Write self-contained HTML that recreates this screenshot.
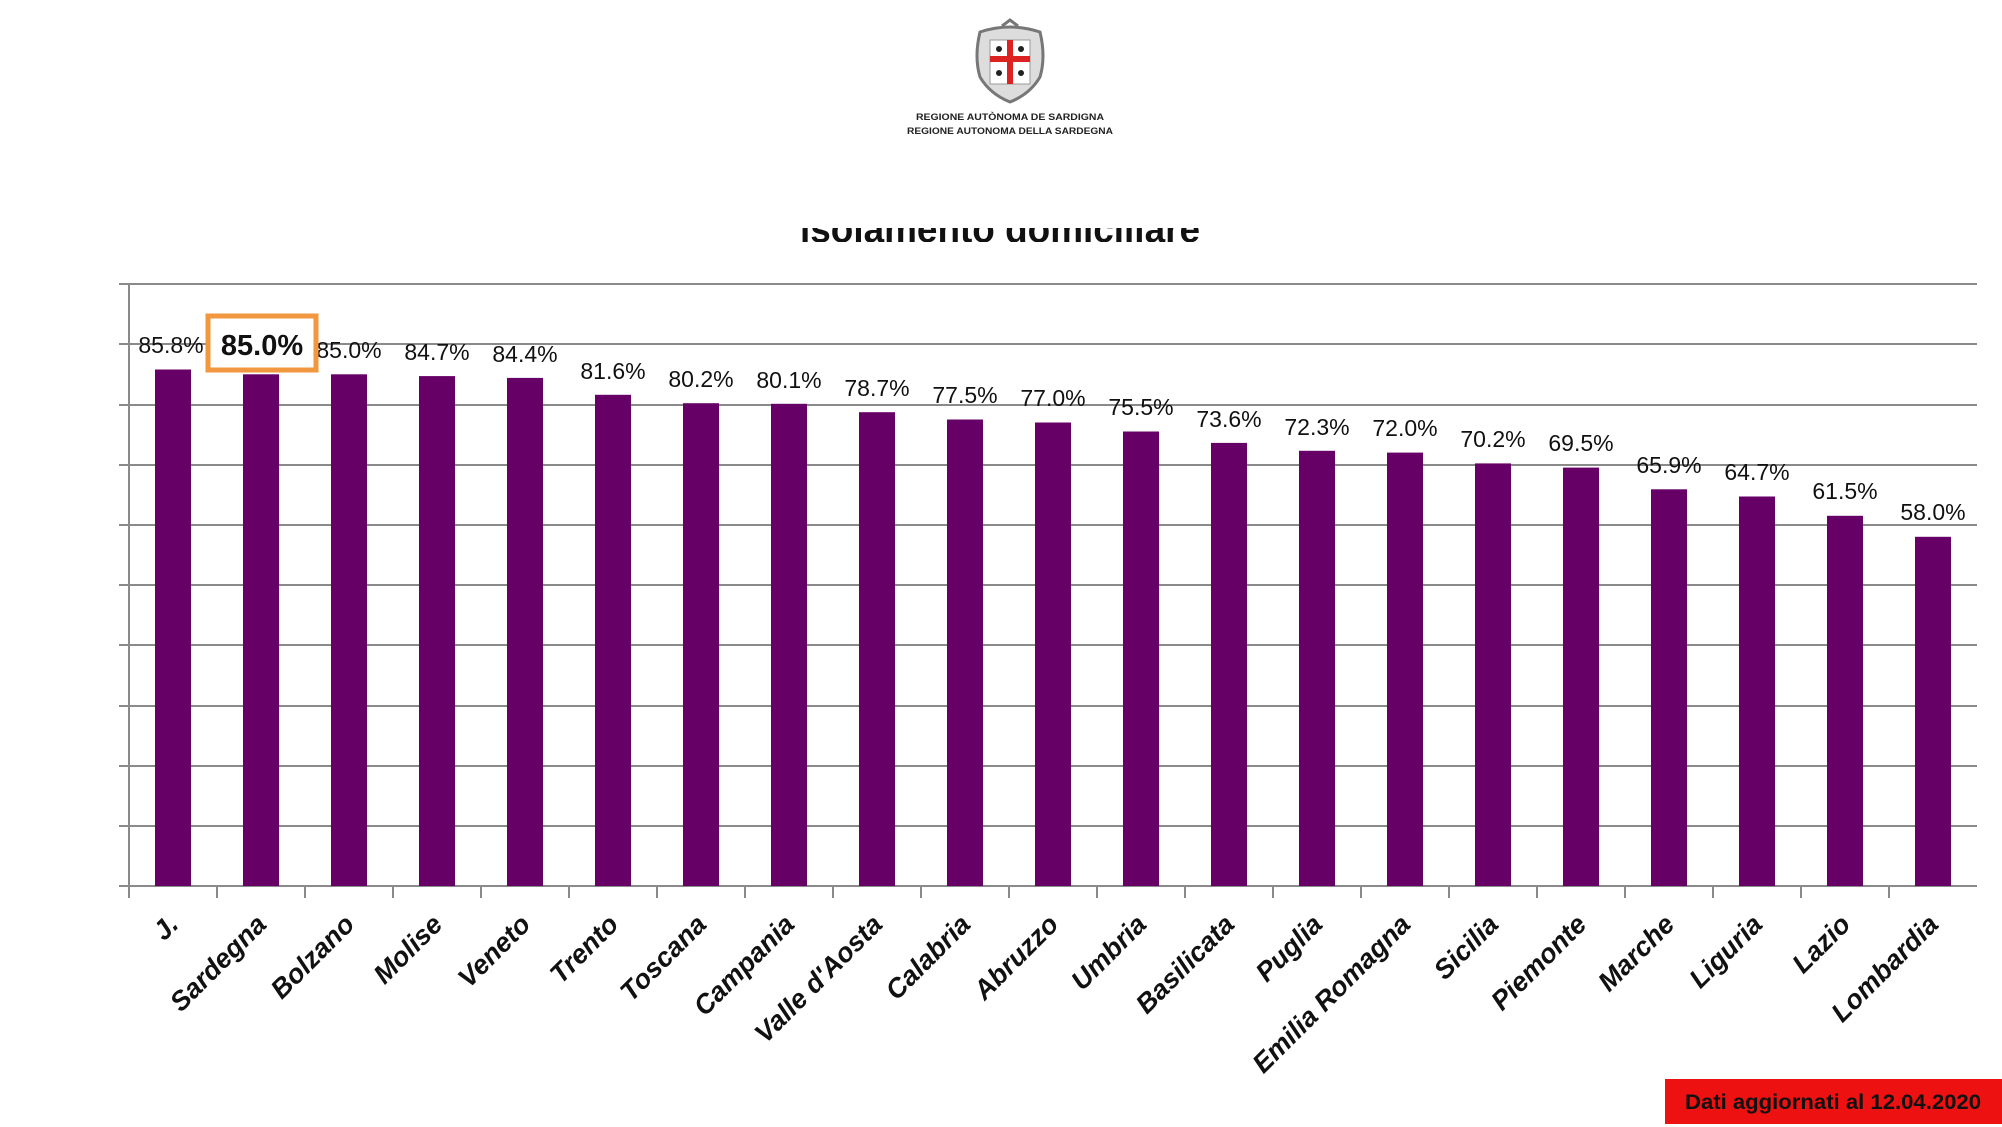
<!DOCTYPE html>
<html><head><meta charset="utf-8"><style>
html,body{margin:0;padding:0;background:#fff;}
svg{display:block;}
</style></head><body>
<svg width="2002" height="1127" xmlns="http://www.w3.org/2000/svg" font-family="'Liberation Sans', sans-serif">
<rect width="2002" height="1127" fill="#fff"/>
<g transform="translate(1010,62)">
<path d="M-30,-30 Q-36,-5 -30,15 Q-20,32 0,40 Q20,32 30,15 Q36,-5 30,-30 Q0,-40 -30,-30Z" fill="#ddd" stroke="#777" stroke-width="3"/>
<rect x="-20" y="-22" width="40" height="44" fill="#fff" stroke="#999"/>
<rect x="-3" y="-22" width="6" height="44" fill="#d22"/>
<rect x="-20" y="-6" width="40" height="6" fill="#d22"/>
<circle cx="-11" cy="-13" r="3" fill="#222"/><circle cx="11" cy="-13" r="3" fill="#222"/>
<circle cx="-11" cy="11" r="3" fill="#222"/><circle cx="11" cy="11" r="3" fill="#222"/>
<path d="M-8,-36 L0,-42 L8,-36" fill="none" stroke="#777" stroke-width="3"/>
</g>
<text x="1010" y="120" font-size="9" font-weight="bold" text-anchor="middle" fill="#222" textLength="188" lengthAdjust="spacingAndGlyphs">REGIONE AUTÒNOMA DE SARDIGNA</text>
<text x="1010" y="134" font-size="9" font-weight="bold" text-anchor="middle" fill="#222" textLength="206" lengthAdjust="spacingAndGlyphs">REGIONE AUTONOMA DELLA SARDEGNA</text>
<defs><clipPath id="tc"><rect x="0" y="228" width="2002" height="14"/></clipPath></defs>
<text x="1000" y="242" font-size="38" font-weight="bold" text-anchor="middle" fill="#111" clip-path="url(#tc)" textLength="400" lengthAdjust="spacingAndGlyphs">isolamento domiciliare</text>
<g stroke="#8a8a8a" stroke-width="2">
<line x1="119" y1="284" x2="1977" y2="284"/>
<line x1="119" y1="344" x2="1977" y2="344"/>
<line x1="119" y1="405" x2="1977" y2="405"/>
<line x1="119" y1="465" x2="1977" y2="465"/>
<line x1="119" y1="525" x2="1977" y2="525"/>
<line x1="119" y1="585" x2="1977" y2="585"/>
<line x1="119" y1="645" x2="1977" y2="645"/>
<line x1="119" y1="706" x2="1977" y2="706"/>
<line x1="119" y1="766" x2="1977" y2="766"/>
<line x1="119" y1="826" x2="1977" y2="826"/>
<line x1="119" y1="886" x2="1977" y2="886"/>
<line x1="129" y1="284" x2="129" y2="898"/>
</g>
<g stroke="#8a8a8a" stroke-width="2">
<line x1="217" y1="886" x2="217" y2="898"/><line x1="305" y1="886" x2="305" y2="898"/><line x1="393" y1="886" x2="393" y2="898"/><line x1="481" y1="886" x2="481" y2="898"/><line x1="569" y1="886" x2="569" y2="898"/><line x1="657" y1="886" x2="657" y2="898"/><line x1="745" y1="886" x2="745" y2="898"/><line x1="833" y1="886" x2="833" y2="898"/><line x1="921" y1="886" x2="921" y2="898"/><line x1="1009" y1="886" x2="1009" y2="898"/><line x1="1097" y1="886" x2="1097" y2="898"/><line x1="1185" y1="886" x2="1185" y2="898"/><line x1="1273" y1="886" x2="1273" y2="898"/><line x1="1361" y1="886" x2="1361" y2="898"/><line x1="1449" y1="886" x2="1449" y2="898"/><line x1="1537" y1="886" x2="1537" y2="898"/><line x1="1625" y1="886" x2="1625" y2="898"/><line x1="1713" y1="886" x2="1713" y2="898"/><line x1="1801" y1="886" x2="1801" y2="898"/><line x1="1889" y1="886" x2="1889" y2="898"/>
</g>
<g fill="#660066">
<rect x="155" y="369.5" width="36" height="516.5"/>
<rect x="243" y="374.3" width="36" height="511.7"/>
<rect x="331" y="374.3" width="36" height="511.7"/>
<rect x="419" y="376.1" width="36" height="509.9"/>
<rect x="507" y="377.9" width="36" height="508.1"/>
<rect x="595" y="394.8" width="36" height="491.2"/>
<rect x="683" y="403.2" width="36" height="482.8"/>
<rect x="771" y="403.8" width="36" height="482.2"/>
<rect x="859" y="412.2" width="36" height="473.8"/>
<rect x="947" y="419.5" width="36" height="466.5"/>
<rect x="1035" y="422.5" width="36" height="463.5"/>
<rect x="1123" y="431.5" width="36" height="454.5"/>
<rect x="1211" y="442.9" width="36" height="443.1"/>
<rect x="1299" y="450.8" width="36" height="435.2"/>
<rect x="1387" y="452.6" width="36" height="433.4"/>
<rect x="1475" y="463.4" width="36" height="422.6"/>
<rect x="1563" y="467.6" width="36" height="418.4"/>
<rect x="1651" y="489.3" width="36" height="396.7"/>
<rect x="1739" y="496.5" width="36" height="389.5"/>
<rect x="1827" y="515.8" width="36" height="370.2"/>
<rect x="1915" y="536.8" width="36" height="349.2"/>
</g>
<g font-size="23" fill="#111" text-anchor="middle">
<text x="171" y="353">85.8%</text>
<text x="349" y="358">85.0%</text>
<text x="437" y="360">84.7%</text>
<text x="525" y="362">84.4%</text>
<text x="613" y="379">81.6%</text>
<text x="701" y="387">80.2%</text>
<text x="789" y="388">80.1%</text>
<text x="877" y="396">78.7%</text>
<text x="965" y="403">77.5%</text>
<text x="1053" y="406">77.0%</text>
<text x="1141" y="415">75.5%</text>
<text x="1229" y="427">73.6%</text>
<text x="1317" y="435">72.3%</text>
<text x="1405" y="436">72.0%</text>
<text x="1493" y="447">70.2%</text>
<text x="1581" y="451">69.5%</text>
<text x="1669" y="473">65.9%</text>
<text x="1757" y="480">64.7%</text>
<text x="1845" y="499">61.5%</text>
<text x="1933" y="520">58.0%</text>
</g>
<rect x="208" y="316" width="108" height="54" fill="#fff" stroke="#F0973F" stroke-width="5"/>
<text x="262" y="355" font-size="29" font-weight="bold" text-anchor="middle" fill="#111">85.0%</text>
<g font-size="27" font-weight="bold" font-style="italic" fill="#111" text-anchor="end">
<text transform="translate(180,926) rotate(-45)">J.</text>
<text transform="translate(268,926) rotate(-45)">Sardegna</text>
<text transform="translate(356,926) rotate(-45)">Bolzano</text>
<text transform="translate(444,926) rotate(-45)">Molise</text>
<text transform="translate(532,926) rotate(-45)">Veneto</text>
<text transform="translate(620,926) rotate(-45)">Trento</text>
<text transform="translate(708,926) rotate(-45)">Toscana</text>
<text transform="translate(796,926) rotate(-45)">Campania</text>
<text transform="translate(884,926) rotate(-45)">Valle d'Aosta</text>
<text transform="translate(972,926) rotate(-45)">Calabria</text>
<text transform="translate(1060,926) rotate(-45)">Abruzzo</text>
<text transform="translate(1148,926) rotate(-45)">Umbria</text>
<text transform="translate(1236,926) rotate(-45)">Basilicata</text>
<text transform="translate(1324,926) rotate(-45)">Puglia</text>
<text transform="translate(1412,926) rotate(-45)">Emilia Romagna</text>
<text transform="translate(1500,926) rotate(-45)">Sicilia</text>
<text transform="translate(1588,926) rotate(-45)">Piemonte</text>
<text transform="translate(1676,926) rotate(-45)">Marche</text>
<text transform="translate(1764,926) rotate(-45)">Liguria</text>
<text transform="translate(1852,926) rotate(-45)">Lazio</text>
<text transform="translate(1940,926) rotate(-45)">Lombardia</text>
</g>
<rect x="1665" y="1079" width="337" height="45" fill="#ee1111"/>
<text x="1833" y="1109" font-size="21" font-weight="bold" text-anchor="middle" fill="#111" textLength="296" lengthAdjust="spacingAndGlyphs">Dati aggiornati al 12.04.2020</text>
</svg>
</body></html>
